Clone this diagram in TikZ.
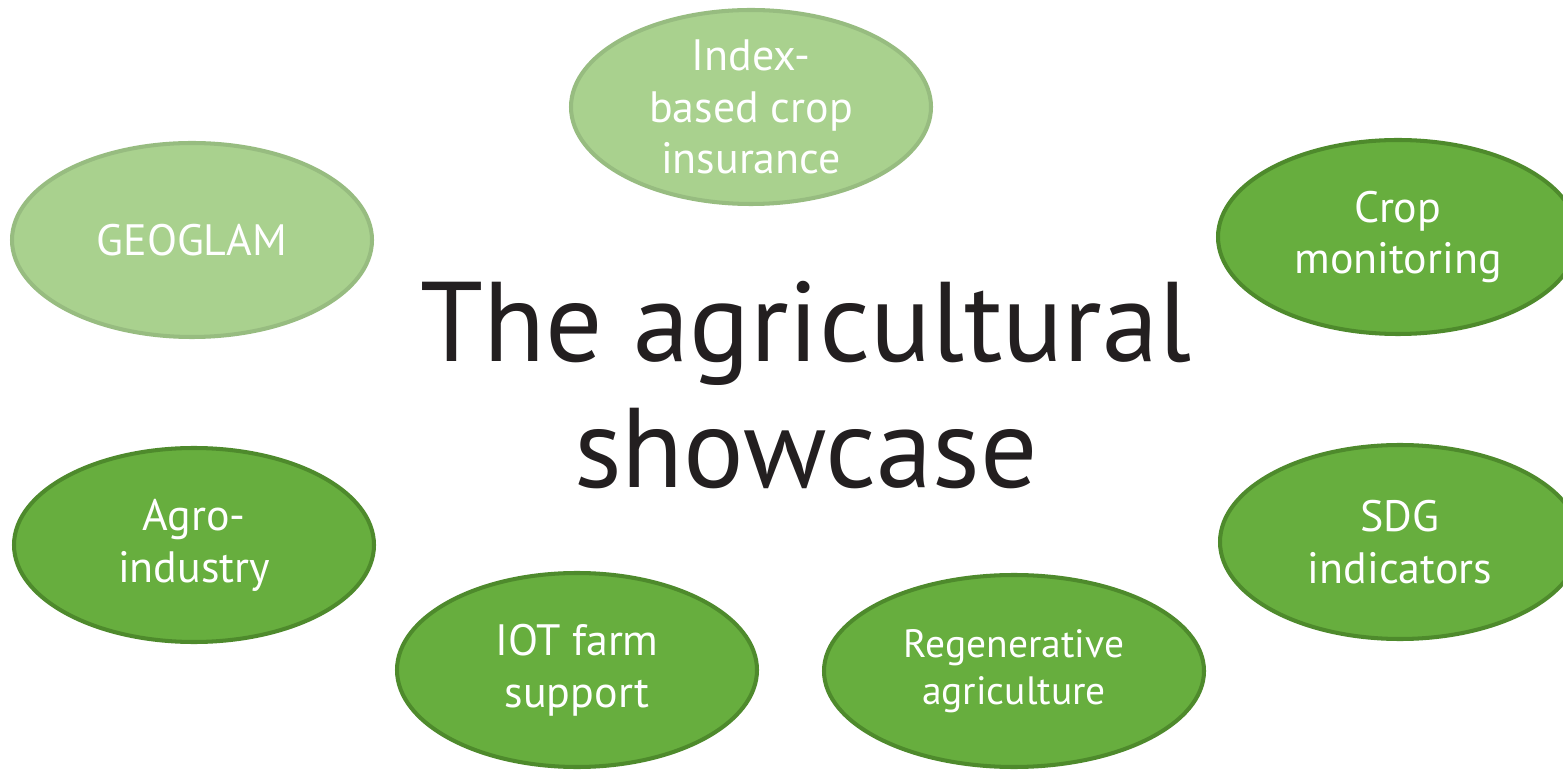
\documentclass[tikz,border=0pt]{standalone}
\usepackage{fontspec}
\setmainfont{PT Sans}
\usepackage{tikz}
\usetikzlibrary{shapes.geometric}
\definecolor{leafpale}{HTML}{A9D18E}
\definecolor{leafpaleline}{HTML}{97BC80}
\definecolor{leafdark}{HTML}{67AE3E}
\definecolor{leafdarkline}{HTML}{4E8A2C}
\definecolor{titleink}{HTML}{231F20}

\begin{document}
\begin{tikzpicture}[
    every node/.style={align=center},
    bubble/.style={ellipse, line width=2.3pt, minimum width=7.2cm, minimum height=3.88cm, inner sep=0pt, text=white, font=\fontsize{25}{29.5}\selectfont},
    palebub/.style={bubble, draw=leafpaleline, fill=leafpale},
    darkbub/.style={bubble, draw=leafdarkline, fill=leafdark}
]
\useasboundingbox (0,0) rectangle (31.26,15.38);

% centre title
\node (title) at (16.12,7.68) [text=titleink, font=\fontsize{64.5}{72}\selectfont] {The agricultural\\showcase};

% upper ring
\node (geoglam) at (3.84,10.58) [palebub] {GEOGLAM};
\node (index) at (15.02,13.24) [palebub] {Index-\\based crop\\insurance};
\node (cropmon) at (27.96,10.64) [darkbub] {Crop\\monitoring};

% lower ring
\node (agro) at (3.88,4.48) [darkbub] {Agro-\\industry};
\node (iot) at (11.54,1.98) [darkbub] {IOT farm\\support};
\node (regen) at (20.28,1.96) [darkbub, minimum width=7.6cm, minimum height=3.84cm, font=\fontsize{22.5}{27}\selectfont] {Regenerative\\agriculture};
\node (sdg) at (28.0,4.54) [darkbub] {SDG\\indicators};
\end{tikzpicture}
\end{document}
